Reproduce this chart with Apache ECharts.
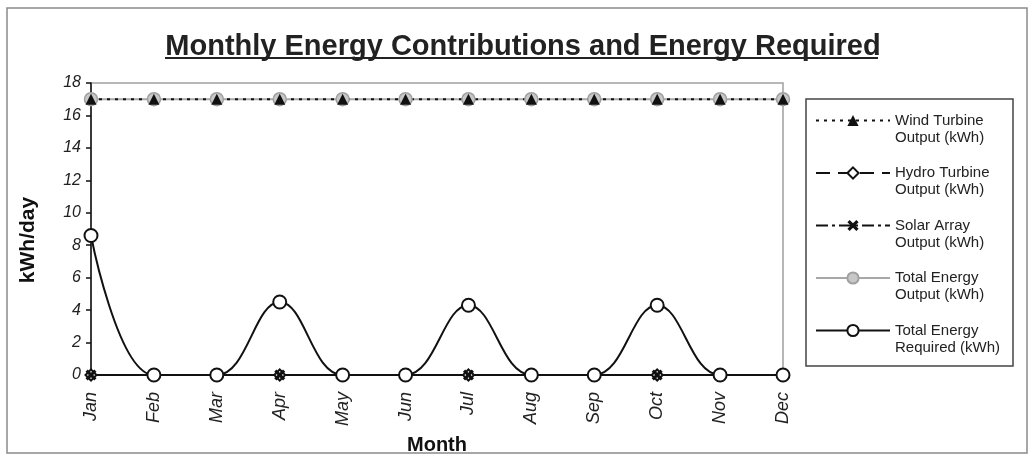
<!DOCTYPE html>
<html>
<head>
<meta charset="utf-8">
<script src="https://cdn.jsdelivr.net/npm/echarts@6/dist/echarts.min.js"></script>
<style>
html,body{margin:0;padding:0;background:#fff;}
#chart{width:1033px;height:460px;}
</style>
</head>
<body>
<div id="chart"></div>
<script>
const months = ['Jan','Feb','Mar','Apr','May','Jun','Jul','Aug','Sep','Oct','Nov','Dec'];
const windOutput = [17,17,17,17,17,17,17,17,17,17,17,17];
const hydroOutput = [0,0,0,0,0,0,0,0,0,0,0,0];
const solarOutput = [0,0,0,0,0,0,0,0,0,0,0,0];
const totalOutput = [17,17,17,17,17,17,17,17,17,17,17,17];
const totalRequired = [8.6,0,0,4.5,0,0,4.3,0,0,4.3,0,0];
const yTicks = {min:0, max:18, interval:2};

const seriesNames = {
  wind: 'Wind Turbine\nOutput (kWh)',
  hydro: 'Hydro Turbine\nOutput (kWh)',
  solar: 'Solar Array\nOutput (kWh)',
  tout: 'Total Energy\nOutput (kWh)',
  treq: 'Total Energy\nRequired (kWh)'
};

const FONT = 'Liberation Sans, Arial, sans-serif';
const xSymbol = 'path://M2,0 L5,3 L8,0 L10,2 L7,5 L10,8 L8,10 L5,7 L2,10 L0,8 L3,5 L0,2 Z';

const chart = echarts.init(document.getElementById('chart'), null, {renderer:'canvas'});
chart.setOption({
  animation: false,
  backgroundColor: '#fff',
  title: {
    text: 'Monthly Energy Contributions and Energy Required',
    left: 518, top: 27, textAlign: 'center',
    textStyle: {fontFamily: FONT, fontSize: 29, fontWeight: 'bold', color: '#222'}
  },
  graphic: [
    {type:'rect', shape:{x:7,y:8,width:1020,height:445}, style:{fill:'none', stroke:'#8a8a8a', lineWidth:1.5}, silent:true},
    {type:'rect', shape:{x:806,y:99,width:207,height:267}, style:{fill:'none', stroke:'#444', lineWidth:1.5}, silent:true},
    {type:'line', shape:{x1:165,y1:58,x2:878,y2:58}, style:{stroke:'#222', lineWidth:2}, silent:true}
  ],
  legend: {
    orient: 'vertical',
    left: 810, top: 90,
    itemWidth: 74, itemHeight: 14,
    itemGap: 1.5,
    data: [seriesNames.wind, seriesNames.hydro, seriesNames.solar, seriesNames.tout, seriesNames.treq],
    formatter: function (n) { return '\n' + n; },
    textStyle: {fontFamily: FONT, fontSize: 15, lineHeight: 17, color: '#222'}
  },
  grid: {left: 91, right: 250, top: 83, bottom: 77, show: true, borderColor: '#a0a0a0', borderWidth: 1.5, backgroundColor: 'transparent'},
  xAxis: {
    type: 'category', data: months, boundaryGap: false,
    name: 'Month', nameLocation: 'middle', nameGap: 60,
    nameTextStyle: {fontFamily: FONT, fontSize: 20, fontWeight: 'bold', color: '#111'},
    axisLine: {lineStyle: {color: '#111', width: 2}},
    axisTick: {show: false},
    axisLabel: {rotate: 90, fontFamily: FONT, fontSize: 18, fontStyle: 'italic', color: '#222', margin: 17}
  },
  yAxis: {
    type: 'value', min: yTicks.min, max: yTicks.max, interval: yTicks.interval,
    name: 'kWh/day', nameLocation: 'middle', nameGap: 52, nameRotate: 90,
    nameTextStyle: {fontFamily: FONT, fontSize: 21, fontWeight: 'bold', color: '#111', padding: [0, 22, 0, 0]},
    axisLine: {show: true, lineStyle: {color: '#111', width: 1.5}},
    axisTick: {show: true, length: 5, lineStyle: {color: '#111', width: 1.5}},
    splitLine: {show: false},
    axisLabel: {fontFamily: FONT, fontSize: 16, fontStyle: 'italic', color: '#222', margin: 10}
  },
  series: [
    {name: seriesNames.tout, type: 'line', data: totalOutput, symbol: 'circle', symbolSize: 13,
     lineStyle: {color: '#a8a8a8', width: 2}, itemStyle: {color: '#c8c8c8', borderColor: '#a0a0a0', borderWidth: 1.5}},
    {name: seriesNames.wind, type: 'line', data: windOutput, symbol: 'triangle', symbolSize: 11,
     lineStyle: {color: '#111', width: 2, type: [3,5]}, itemStyle: {color: '#111'}},
    {name: seriesNames.hydro, type: 'line', data: hydroOutput, symbol: 'diamond', symbolSize: 11,
     lineStyle: {color: '#111', width: 2, type: [14,8]}, itemStyle: {color: '#fff', borderColor: '#111', borderWidth: 2}},
    {name: seriesNames.solar, type: 'line', data: solarOutput, symbol: xSymbol, symbolSize: 11,
     lineStyle: {color: '#111', width: 2, type: [12,4,3,4]}, itemStyle: {color: '#111'}},
    {name: seriesNames.treq, type: 'line', data: totalRequired, smooth: 0.4, symbol: 'circle', symbolSize: 13,
     lineStyle: {color: '#111', width: 2}, itemStyle: {color: '#fff', borderColor: '#111', borderWidth: 2}}
  ]
});
</script>
</body>
</html>
